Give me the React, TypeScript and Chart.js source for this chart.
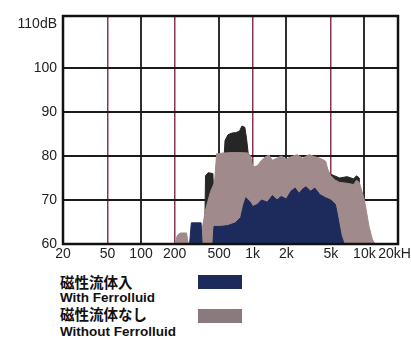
import { useEffect, useRef } from "react";
import { Chart, registerables } from "chart.js";

Chart.register(...registerables);

// X axis (Hz, log) ticks and labels
const xTicks = [20, 50, 100, 200, 500, 1000, 2000, 5000, 10000, 20000];
const xTickLabels = ["20", "50", "100", "200", "500", "1k", "2k", "5k", "10k", "20kHz"];
const maroonTicks = [50, 200, 1000, 5000];

// Y axis (dB)
const yTicks = [60, 70, 80, 90, 100, 110];
const yTickLabels = ["60", "70", "80", "90", "100", "110dB"];

// With Ferrofluid (navy)
const withFreq = [20, 272, 282, 345, 352, 440, 450, 520, 600, 700, 780, 830, 870, 950, 1000, 1100, 1200, 1350, 1500, 1650, 1800, 2000, 2200, 2400, 2600, 2800, 3000, 3300, 3600, 4000, 4500, 5000, 5500, 5800, 6200, 6600, 20000];
const withDb = [60, 60, 64.8, 64.8, 60, 60, 64, 64, 64.2, 64.8, 66, 69, 70.5, 69.5, 68.5, 69, 70, 69.5, 71, 70, 70.8, 70.2, 72, 72.7, 71.5, 72.5, 73, 72, 72.7, 71.2, 70.5, 70, 69, 66, 62, 60, 60];

// Without Ferrofluid (grey)
const withoutFreq = [20, 200, 212, 225, 255, 265, 330, 350, 380, 420, 455, 475, 560, 700, 900, 960, 1000, 1100, 1200, 1300, 1400, 1500, 1650, 1800, 2000, 2200, 2500, 2800, 3200, 3600, 4000, 4500, 4700, 5000, 5500, 6000, 7000, 8000, 8500, 9000, 9500, 10000, 10500, 11000, 11800, 12500, 20000];
const withoutDb = [60, 60, 62, 62.5, 62.5, 60, 60, 63, 68, 72, 74, 80.5, 80.7, 80.8, 80.7, 80, 77.5, 77.8, 79, 79.8, 80.2, 79, 79.5, 80, 79.3, 79.8, 80.3, 79.5, 80.3, 79.8, 79.5, 78.8, 77, 75.5, 74.5, 74, 73.8, 73.5, 74.5, 74, 72, 70, 67, 64, 61, 60, 60];

// Peak envelope (black, behind)
const peakFreq = [20, 370, 378, 400, 440, 446, 555, 565, 600, 650, 700, 760, 800, 850, 880, 910, 1000, 4600, 4800, 5400, 6000, 7000, 8000, 8500, 9000, 9300, 20000];
const peakDb = [60, 60, 75.5, 76.2, 76, 72, 80, 83.5, 84.8, 85.2, 85.3, 85.6, 86.8, 86.5, 84, 80.7, 77, 76, 76, 75.5, 75, 75.3, 74.8, 75.5, 75, 60, 60];

const pts = (f: number[], d: number[]) => f.map((x, i) => ({ x, y: d[i] }));

const NAVY = "#1c2b5c";
const GREY = "#a08a8b";
const BLACK = "#262626";

const frame = {
  id: "frame",
  afterDraw(chart: any) {
    const { ctx, chartArea: a } = chart;
    ctx.save();
    ctx.strokeStyle = "#111";
    ctx.lineWidth = 2.5;
    ctx.strokeRect(a.left, a.top, a.right - a.left, a.bottom - a.top);
    ctx.restore();
  },
};

export default function App() {
  const ref = useRef<HTMLCanvasElement>(null);
  useEffect(() => {
    const chart = new Chart(ref.current!, {
      type: "line",
      data: {
        datasets: [
          { label: "With Ferrolluid", data: pts(withFreq, withDb), backgroundColor: NAVY, borderColor: NAVY, borderWidth: 1, fill: "start", pointRadius: 0, order: 0 },
          { label: "Without Ferrolluid", data: pts(withoutFreq, withoutDb), backgroundColor: GREY, borderColor: GREY, borderWidth: 1, fill: "start", pointRadius: 0, order: 1 },
          { label: "peak", data: pts(peakFreq, peakDb), backgroundColor: BLACK, borderColor: BLACK, borderWidth: 1, fill: "start", pointRadius: 0, order: 2 },
        ],
      },
      options: {
        responsive: false,
        animation: false,
        devicePixelRatio: 1,
        layout: { padding: { left: 0, right: 42, top: 16, bottom: 0 } },
        plugins: { legend: { display: false }, tooltip: { enabled: false } },
        scales: {
          x: {
            type: "logarithmic",
            min: 20,
            max: 20000,
            z: 1,
            afterBuildTicks: (axis: any) => {
              axis.ticks = xTicks.map((v) => ({ value: v }));
            },
            afterFit: (axis: any) => {
              axis.height = 18;
            },
            ticks: {
              autoSkip: false,
              maxRotation: 0,
              padding: 2,
              color: "#222",
              font: { family: "Liberation Sans", size: 14 },
              callback: (_v: any, i: number) => xTickLabels[i],
            },
            grid: {
              drawTicks: false,
              lineWidth: (c: any) => (c.tick && maroonTicks.includes(c.tick.value) ? 1.5 : 2),
              color: (c: any) =>
                c.tick && maroonTicks.includes(c.tick.value) ? "#8a3552" : "#2e2e2e",
            },
            border: { display: false },
          },
          y: {
            min: 60,
            max: 111.8,
            z: 1,
            afterBuildTicks: (axis: any) => {
              axis.ticks = yTicks.map((v) => ({ value: v }));
            },
            afterFit: (axis: any) => {
              axis.width = 63;
            },
            ticks: {
              padding: 6,
              color: "#222",
              font: { family: "Liberation Sans", size: 14 },
              callback: (_v: any, i: number) => yTickLabels[i],
            },
            grid: {
              drawTicks: false,
              lineWidth: 2,
              color: (c: any) => (c.tick && c.tick.value === 110 ? "rgba(0,0,0,0)" : "#1a1a1a"),
            },
            border: { display: false },
          },
        },
      },
      plugins: [frame],
    });
    return () => chart.destroy();
  }, []);

  const latin = { fontFamily: "Liberation Sans, Arial, sans-serif", fontWeight: 700, fontSize: 13.5 } as const;
  const cjk = { fontFamily: "'Noto Sans CJK JP', sans-serif", fontWeight: 700, fontSize: 14.5 } as const;
  const line = (top: number) => ({ position: "absolute" as const, left: 60, top, lineHeight: "16px", color: "#111", whiteSpace: "nowrap" as const });

  return (
    <div style={{ position: "fixed", left: 0, top: 0, width: 411, height: 342, overflow: "hidden", background: "#fff" }}>
      <div style={{ position: "absolute", left: 0, top: 0, width: 440, height: 262 }}>
        <canvas ref={ref} width={440} height={262} style={{ width: 440, height: 262, display: "block" }} />
      </div>
      <div style={{ ...line(274), ...cjk }}>磁性流体入</div>
      <div style={{ ...line(290), ...latin }}>With Ferrolluid</div>
      <div style={{ ...line(306), ...cjk }}>磁性流体なし</div>
      <div style={{ ...line(324), ...latin }}>Without Ferrolluid</div>
      <div style={{ position: "absolute", left: 198, top: 275, width: 44, height: 14, background: NAVY }} />
      <div style={{ position: "absolute", left: 198, top: 309, width: 44, height: 14, background: "#8a7a7e" }} />
    </div>
  );
}
